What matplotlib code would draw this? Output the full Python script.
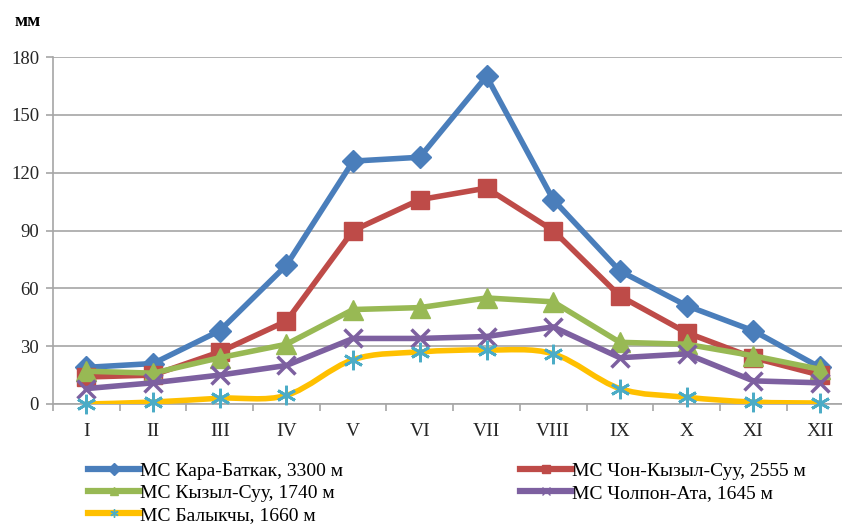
import matplotlib
matplotlib.use("Agg")
import matplotlib.pyplot as plt
from matplotlib.lines import Line2D
from matplotlib.path import Path
from matplotlib.patches import PathPatch
import numpy as np

months = ["I", "II", "III", "IV", "V", "VI", "VII", "VIII", "IX", "X", "XI", "XII"]
kara_batkak = [19, 21, 38, 72, 126, 128, 170, 106, 69, 51, 38, 19]
chon_kyzyl_suu = [14, 15, 27, 43, 90, 106, 112, 90, 56, 37, 24, 15]
kyzyl_suu = [17, 16, 24, 31, 49, 50, 55, 53, 32, 31, 25, 18]
cholpon_ata = [8, 11, 15, 20, 34, 34, 35, 40, 24, 26, 12, 11]
balykchy = [0, 1, 3, 4.5, 23, 27, 28, 26, 8, 3.5, 1, 0.5]
labels = ["МС Кара-Баткак, 3300 м", "МС Чон-Кызыл-Суу, 2555 м",
          "МС Кызыл-Суу, 1740 м", "МС Чолпон-Ата, 1645 м", "МС Балыкчы, 1660 м"]
yticks = [0, 30, 60, 90, 120, 150, 180]

SERIF = "Liberation Serif"
fig = plt.figure(figsize=(8.42, 5.25), dpi=100)
ax = fig.add_axes([53/842, 1-404/525, 1-53/842, (404-57)/525])
x = np.arange(len(months))

styles = [
    dict(color="#4A7EBB", marker="D", ms=11, mfc="#4A7EBB", mec="#4A7EBB"),
    dict(color="#BE4B48", marker="s", ms=13, mfc="#BE4B48", mec="#BE4B48"),
    dict(color="#98B954", marker="^", ms=14, mfc="#98B954", mec="#98B954"),
    dict(color="#7D60A0", marker="x", ms=13, mfc="#7D60A0", mec="#7D60A0", mew=2.5),
    dict(color="#FFC000", marker=(6, 2, 0), ms=14, mfc="#4BACC6", mec="#4BACC6", mew=2),
]
smooth = [False, False, False, False, True]
series = [kara_batkak, chon_kyzyl_suu, kyzyl_suu, cholpon_ata, balykchy]
LW = 4
for s, st, lab, sm in zip(series, styles, labels, smooth):
    if sm:
        y = np.asarray(s, float)
        verts = [(x[0], y[0])]
        codes = [Path.MOVETO]
        n = len(y)
        for i in range(n - 1):
            p0 = np.array([x[max(i-1, 0)], y[max(i-1, 0)]])
            p1 = np.array([x[i], y[i]])
            p2 = np.array([x[i+1], y[i+1]])
            p3 = np.array([x[min(i+2, n-1)], y[min(i+2, n-1)]])
            c1 = p1 + (p2 - p0) / 6.0
            c2 = p2 - (p3 - p1) / 6.0
            verts += [tuple(c1), tuple(c2), tuple(p2)]
            codes += [Path.CURVE4] * 3
        ax.add_patch(PathPatch(Path(verts, codes), fill=False, lw=LW, ec=st["color"],
                               zorder=3, capstyle="round", joinstyle="round"))
        d = dict(st); d.pop("color")
        ax.plot(x, s, ls="none", zorder=4, clip_on=False, **d)
    else:
        ax.plot(x, s, lw=LW, zorder=3, clip_on=False, solid_joinstyle="round", **st)

ax.set_xlim(-0.5, 11.33)
ax.set_ylim(0, 180)
ax.set_yticks(yticks)
ax.set_yticklabels([str(v) for v in yticks], fontfamily=SERIF, fontsize=13.5, color="#262626")
ax.grid(axis="y", color="#A6A6A6", lw=1.2)
ax.set_axisbelow(True)
ax.set_xticks(x)
ax.set_xticklabels(months, fontfamily=SERIF, fontsize=14, color="#262626")
ax.tick_params(axis="x", length=0, pad=14)
ax.set_xticks(np.arange(-0.5, 11.5, 1), minor=True)
ax.tick_params(axis="x", which="minor", length=5, color="#A6A6A6", width=1.2)
ax.tick_params(axis="y", length=5, color="#A6A6A6", width=1.2, pad=5)
for sp in ["top", "right"]:
    ax.spines[sp].set_visible(False)
for sp in ["left", "bottom"]:
    ax.spines[sp].set_color("#A6A6A6")
    ax.spines[sp].set_linewidth(1.2)

fig.text(15/842, 1-21/525, "мм", fontfamily=SERIF, fontweight="bold", fontsize=14, va="center")

handles = []
for st in styles:
    d = dict(st)
    d["ms"] = 6
    if d["marker"] == "x" or isinstance(d["marker"], tuple):
        d["mew"] = 1
    handles.append(Line2D([], [], lw=4.5, **d))

legprops = dict(frameon=False, prop={"family": SERIF, "size": 14}, handlelength=2.65,
                handletextpad=0.0, labelspacing=0.23, borderaxespad=0, borderpad=0,
                loc="upper left")
leg1 = fig.legend([handles[i] for i in [0, 2, 4]], [labels[i] for i in [0, 2, 4]],
                  bbox_to_anchor=(88/842, 1-462/525), **legprops)
leg2 = fig.legend([handles[i] for i in [1, 3]], [labels[i] for i in [1, 3]],
                  bbox_to_anchor=(520/842, 1-462/525), **legprops)
fig.savefig("out.png", dpi=100)
